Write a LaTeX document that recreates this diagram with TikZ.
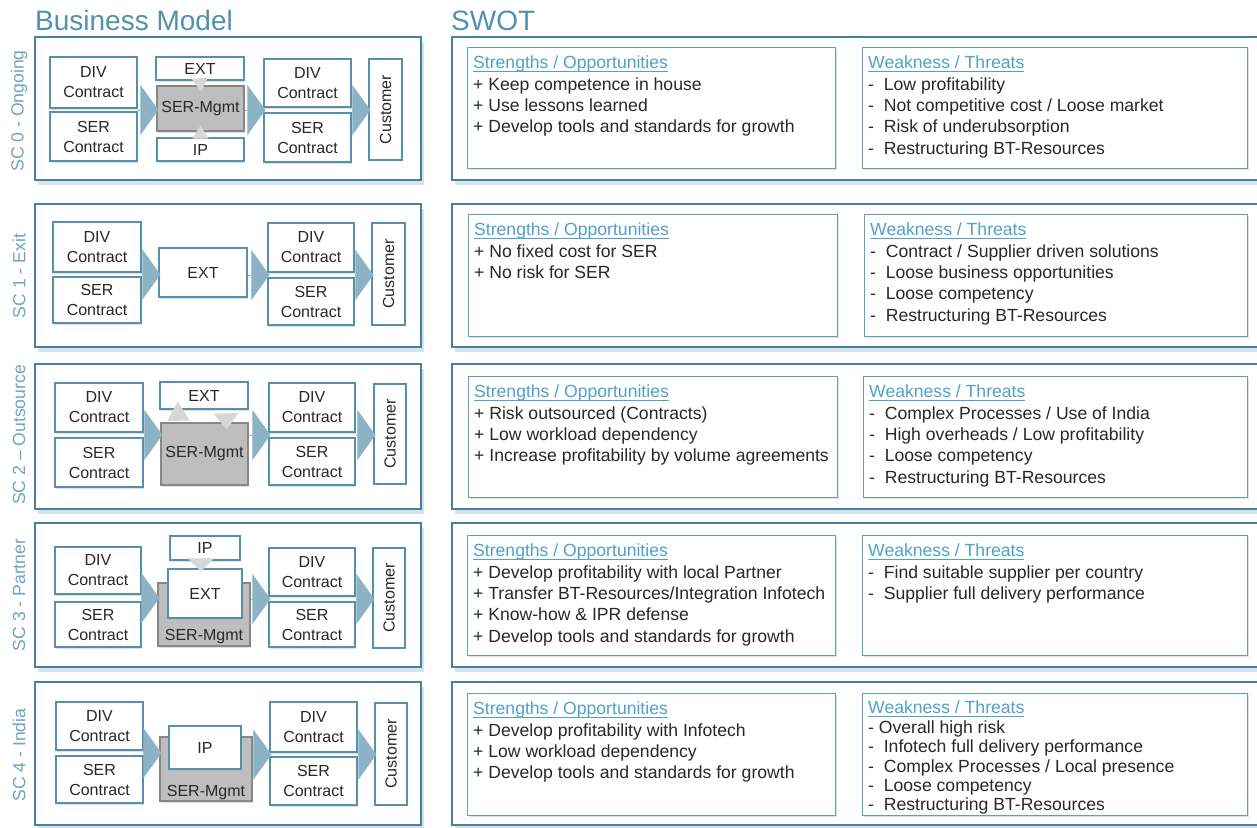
\documentclass[tikz,border=0pt]{standalone}
\usepackage{fontspec}
\setmainfont{Liberation Sans}
\usetikzlibrary{arrows.meta,shadows,calc}

\definecolor{panelc}{RGB}{70,130,160}
\definecolor{titlec}{RGB}{80,145,175}
\definecolor{sidec}{RGB}{110,165,195}
\definecolor{boxc}{RGB}{85,145,175}
\definecolor{swc}{RGB}{100,158,186}
\definecolor{headc}{RGB}{80,162,200}
\definecolor{txtc}{RGB}{40,40,40}
\definecolor{mgmtc}{RGB}{190,190,190}
\definecolor{mgmtd}{RGB}{135,135,135}
\definecolor{chevc}{RGB}{140,178,198}
\definecolor{tric}{RGB}{215,215,215}
\definecolor{shadc}{RGB}{185,210,222}

\newsavebox{\hdbox}
\newcommand{\swhead}[1]{\sbox{\hdbox}{\color{headc}#1}\textcolor{headc}{\rlap{\rule[-3pt]{\wd\hdbox}{0.9pt}}}\usebox{\hdbox}}

\begin{document}
\begin{tikzpicture}[x=1pt, y=-1pt,
    panel/.style={draw=panelc, line width=1.6pt, fill=white,
        drop shadow={shadow xshift=3pt, shadow yshift=-5pt, fill=shadc, opacity=0.6}},
    boxbase/.style={draw=boxc, line width=1.3pt, fill=white, inner sep=0pt, align=center,
        text=txtc, font=\fontsize{16}{20}\selectfont},
    box/.style={boxbase, drop shadow={shadow xshift=1.2pt, shadow yshift=-1.5pt, fill=black!30, opacity=0.4}},
    mgmt/.style={box, draw=mgmtd, fill=mgmtc},
    cust/.style={boxbase, rotate=90},
    chev/.style={draw=chevc, line width=0.1pt, shorten >=-2pt, -{Triangle[width=50pt,length=18pt]}},
    tri/.style 2 args={draw=tric, line width=0.1pt, -{Triangle[width=#1,length=#2]}},
    swbox/.style={draw=swc, line width=1.3pt, fill=white, anchor=north west, inner sep=0pt,
        drop shadow={shadow xshift=1.2pt, shadow yshift=-1.5pt, fill=black!30, opacity=0.4}},
    swtext/.style={anchor=north west, inner sep=0pt, align=left, text=txtc,
        font=\fontsize{17.6}{21.3}\selectfont},
    side/.style={rotate=90, text=sidec, inner sep=0pt, font=\fontsize{17.6}{20}\selectfont},
    ]

    \fill[white] (0,0) rectangle (1257,827);
    \useasboundingbox (0,0) rectangle (1257,827);

    % Titles
    \node[anchor=base west, inner sep=0pt, text=titlec, font=\fontsize{28}{30}\selectfont] (bmtitle) at (35,30) {Business Model};
    \node[anchor=base west, inner sep=0pt, text=titlec, font=\fontsize{28}{30}\selectfont] (swtitle) at (451,30) {SWOT};

    % Panels
    \foreach \t/\b in {37/180, 204/347, 364/509, 523/667, 682/825} {
        \draw[panel] (35,\t) rectangle (421,\b);
        \draw[panel] (452,\t) rectangle (1275,\b);
    }

    % Scenario labels
    \node[side] (sc0) at (19,111) {SC 0 - Ongoing};
    \node[side] (sc1) at (19,276) {SC 1 - Exit};
    \node[side] (sc2) at (19,435) {SC 2 – Outsource};
    \node[side] (sc3) at (19,595) {SC 3 - Partner};
    \node[side] (sc4) at (19,755) {SC 4 - India};

    % SC 0 - Ongoing
    \node[box, minimum width=87pt, minimum height=51pt] (dl0) at (93.5,82.5) {DIV\\Contract};
    \node[box, minimum width=87pt, minimum height=49pt] (sl0) at (93.5,136.5) {SER\\Contract};
    \node[box, minimum width=88pt, minimum height=23pt] (e0) at (200,68.5) {EXT};
    \node[mgmt, minimum width=87pt, minimum height=45pt] (m0) at (200.5,108.5) {SER-Mgmt};
    \node[box, minimum width=87pt, minimum height=23pt] (ip0) at (200.5,149.5) {IP};
    \node[box, minimum width=87pt, minimum height=48pt] (dr0) at (307.5,83) {DIV\\Contract};
    \node[box, minimum width=87pt, minimum height=49pt] (sr0) at (307.5,137.5) {SER\\Contract};
    \node[cust, minimum width=101pt, minimum height=33pt] (cu0) at (385.5,109.5) {Customer};
    \draw[tri={16pt}{13pt}, shorten >=-6pt] (e0.south) -- (m0.north);
    \draw[tri={16pt}{13pt}, shorten >=-6pt] (ip0.north) -- (m0.south);
    \coordinate (gl0) at ($(dl0.south east)!0.5!(sl0.north east)$);
    \coordinate (gr0) at ($(dr0.south east)!0.5!(sr0.north east)$);
    \draw[chev] (gl0) -- (gl0 -| m0.west);
    \draw[chev] (gr0 -| m0.east) -- (gr0 -| dr0.west);
    \draw[chev] (gr0) -- (gr0 -| cu0.north);

    % SC 1 - Exit
    \node[box, minimum width=88pt, minimum height=50pt] (dl1) at (97,247) {DIV\\Contract};
    \node[box, minimum width=88pt, minimum height=46pt] (sl1) at (97,300) {SER\\Contract};
    \node[box, minimum width=88pt, minimum height=49pt] (e1) at (203,272.5) {EXT};
    \node[box, minimum width=86pt, minimum height=49pt] (dr1) at (311,247.5) {DIV\\Contract};
    \node[box, minimum width=86pt, minimum height=47pt] (sr1) at (311,301.5) {SER\\Contract};
    \node[cust, minimum width=102pt, minimum height=33pt] (cu1) at (388.5,274) {Customer};
    \coordinate (gl1) at ($(dl1.south east)!0.5!(sl1.north east)$);
    \coordinate (gr1) at ($(dr1.south east)!0.5!(sr1.north east)$);
    \draw[chev] (gl1) -- (gl1 -| e1.west);
    \draw[chev] (gr1 -| e1.east) -- (gr1 -| dr1.west);
    \draw[chev] (gr1) -- (gr1 -| cu1.north);

    % SC 2 - Outsource
    \node[box, minimum width=88pt, minimum height=49pt] (dl2) at (99,407.5) {DIV\\Contract};
    \node[box, minimum width=88pt, minimum height=49pt] (sl2) at (99,462.5) {SER\\Contract};
    \node[box, minimum width=88pt, minimum height=27pt] (e2) at (204,395.5) {EXT};
    \node[mgmt, minimum width=87pt, minimum height=62pt] (m2) at (204.5,454) {SER-Mgmt};
    \node[box, minimum width=86pt, minimum height=49pt] (dr2) at (312,407.5) {DIV\\Contract};
    \node[box, minimum width=86pt, minimum height=47pt] (sr2) at (312,461.5) {SER\\Contract};
    \node[cust, minimum width=100pt, minimum height=32pt] (cu2) at (390,434) {Customer};
    \draw[tri={22pt}{19pt}, shorten >=-8pt] ([xshift=-26pt]m2.north) -- ([xshift=-26pt]e2.south);
    \draw[tri={25pt}{16pt}, shorten >=-7pt] ([xshift=22pt]e2.south) -- ([xshift=22pt]m2.north);
    \coordinate (gl2) at ($(dl2.south east)!0.5!(sl2.north east)$);
    \coordinate (gr2) at ($(dr2.south east)!0.5!(sr2.north east)$);
    \draw[chev] (gl2) -- (gl2 -| m2.west);
    \draw[chev] (gr2 -| m2.east) -- (gr2 -| dr2.west);
    \draw[chev] (gr2) -- (gr2 -| cu2.north);

    % SC 3 - Partner
    \node[box, minimum width=86pt, minimum height=47pt] (dl3) at (98,570.5) {DIV\\Contract};
    \node[box, minimum width=86pt, minimum height=45pt] (sl3) at (98,624.5) {SER\\Contract};
    \node[mgmt, minimum width=92pt, minimum height=63pt,
        label={[anchor=south, inner sep=3pt, text=txtc, font=\fontsize{16}{20}\selectfont]south:SER-Mgmt}] (m3) at (204,614.5) {};
    \node[box, minimum width=74pt, minimum height=49pt] (e3) at (205,593.5) {EXT};
    \node[box, minimum width=70pt, minimum height=24pt] (ip3) at (205,548) {IP};
    \node[box, minimum width=86pt, minimum height=48pt] (dr3) at (312,572) {DIV\\Contract};
    \node[box, minimum width=86pt, minimum height=45pt] (sr3) at (312,624.5) {SER\\Contract};
    \node[cust, minimum width=100pt, minimum height=32pt] (cu3) at (389,598) {Customer};
    \draw[tri={26pt}{13pt}, shorten >=-3pt] ([xshift=-4pt]ip3.south) -- ([xshift=-4pt]e3.north);
    \coordinate (gl3) at ($(dl3.south east)!0.5!(sl3.north east)$);
    \coordinate (gr3) at ($(dr3.south east)!0.5!(sr3.north east)$);
    \draw[chev] (gl3) -- (gl3 -| m3.west);
    \draw[chev] (gr3 -| m3.east) -- (gr3 -| dr3.west);
    \draw[chev] (gr3) -- (gr3 -| cu3.north);

    % SC 4 - India
    \node[box, minimum width=87pt, minimum height=48pt] (dl4) at (99.5,726) {DIV\\Contract};
    \node[box, minimum width=87pt, minimum height=47pt] (sl4) at (99.5,779.5) {SER\\Contract};
    \node[mgmt, minimum width=92pt, minimum height=64pt,
        label={[anchor=south, inner sep=2pt, text=txtc, font=\fontsize{16}{20}\selectfont]south:SER-Mgmt}] (m4) at (206,769) {};
    \node[box, minimum width=72pt, minimum height=43pt] (ip4) at (205,747.5) {IP};
    \node[box, minimum width=87pt, minimum height=50pt] (dr4) at (313.5,727) {DIV\\Contract};
    \node[box, minimum width=87pt, minimum height=48pt] (sr4) at (313.5,781) {SER\\Contract};
    \node[cust, minimum width=102pt, minimum height=32pt] (cu4) at (391,754) {Customer};
    \coordinate (gl4) at ($(dl4.south east)!0.5!(sl4.north east)$);
    \coordinate (gr4) at ($(dr4.south east)!0.5!(sr4.north east)$);
    \draw[chev] (gl4) -- (gl4 -| m4.west);
    \draw[chev] (gr4 -| m4.east) -- (gr4 -| dr4.west);
    \draw[chev] (gr4) -- (gr4 -| cu4.north);

    % SWOT boxes
    \node[swbox, minimum width=368pt, minimum height=121pt] (so0) at (467,47) {};
    \node[swtext] (so0t) at ([xshift=6pt,yshift=-9pt]so0.north west) {\swhead{Strengths / Opportunities}\\+ Keep competence in house\\+ Use lessons learned\\+ Develop tools and standards for growth};
    \node[swbox, minimum width=385pt, minimum height=121pt] (wt0) at (862,47) {};
    \node[swtext] (wt0t) at ([xshift=6pt,yshift=-9pt]wt0.north west) {\swhead{Weakness / Threats}\\-\ \ Low profitability\\-\ \ Not competitive cost / Loose market\\-\ \ Risk of underubsorption\\-\ \ Restructuring BT-Resources};

    \node[swbox, minimum width=369pt, minimum height=122pt] (so1) at (468,214) {};
    \node[swtext] (so1t) at ([xshift=6pt,yshift=-9pt]so1.north west) {\swhead{Strengths / Opportunities}\\+ No fixed cost for SER\\+ No risk for SER};
    \node[swbox, minimum width=383pt, minimum height=122pt] (wt1) at (864,214) {};
    \node[swtext] (wt1t) at ([xshift=6pt,yshift=-9pt]wt1.north west) {\swhead{Weakness / Threats}\\-\ \ Contract / Supplier driven solutions\\-\ \ Loose business opportunities\\-\ \ Loose competency\\-\ \ Restructuring BT-Resources};

    \node[swbox, minimum width=369pt, minimum height=121pt] (so2) at (468,376) {};
    \node[swtext] (so2t) at ([xshift=6pt,yshift=-9pt]so2.north west) {\swhead{Strengths / Opportunities}\\+ Risk outsourced (Contracts)\\+ Low workload dependency\\+ Increase profitability by volume agreements};
    \node[swbox, minimum width=384pt, minimum height=121pt] (wt2) at (863,376) {};
    \node[swtext] (wt2t) at ([xshift=6pt,yshift=-9pt]wt2.north west) {\swhead{Weakness / Threats}\\-\ \ Complex Processes / Use of India\\-\ \ High overheads / Low profitability\\-\ \ Loose competency\\-\ \ Restructuring BT-Resources};

    \node[swbox, minimum width=368pt, minimum height=120pt] (so3) at (467,535) {};
    \node[swtext] (so3t) at ([xshift=6pt,yshift=-9pt]so3.north west) {\swhead{Strengths / Opportunities}\\+ Develop profitability with local Partner\\+ Transfer BT-Resources/Integration Infotech\\+ Know-how \& IPR defense\\+ Develop tools and standards for growth};
    \node[swbox, minimum width=385pt, minimum height=120pt] (wt3) at (862,535) {};
    \node[swtext] (wt3t) at ([xshift=6pt,yshift=-9pt]wt3.north west) {\swhead{Weakness / Threats}\\-\ \ Find suitable supplier per country\\-\ \ Supplier full delivery performance};

    \node[swbox, minimum width=368pt, minimum height=122pt] (so4) at (467,693) {};
    \node[swtext] (so4t) at ([xshift=6pt,yshift=-9pt]so4.north west) {\swhead{Strengths / Opportunities}\\+ Develop profitability with Infotech\\+ Low workload dependency\\+ Develop tools and standards for growth};
    \node[swbox, minimum width=385pt, minimum height=122pt] (wt4) at (862,693) {};
    \node[swtext, font=\fontsize{17.6}{19.4}\selectfont] (wt4t) at ([xshift=6pt,yshift=-8pt]wt4.north west) {\swhead{Weakness / Threats}\\- Overall high risk\\-\ \ Infotech full delivery performance\\-\ \ Complex Processes / Local presence\\-\ \ Loose competency\\-\ \ Restructuring BT-Resources};

\end{tikzpicture}
\end{document}
